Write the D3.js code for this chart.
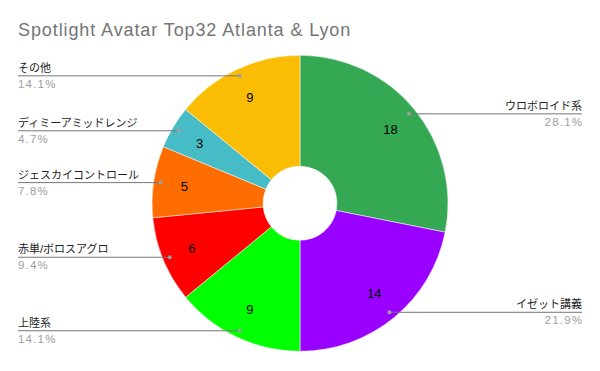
<!DOCTYPE html>
<html>
<head>
<meta charset="utf-8">
<script src="https://cdn.jsdelivr.net/npm/d3@7"></script>
<style>
  body { margin: 0; background: #fff; }
  svg { display: block; font-family: Arial, "Liberation Sans", "Noto Sans CJK JP", sans-serif; }
</style>
</head>
<body>
<div id="chart"></div>
<script>
// archetypes, clockwise from 12 o'clock
let names = ['ウロボロイド系', 'イゼット講義', '上陸系', '赤単/ボロスアグロ', 'ジェスカイコントロール', 'ディミーアミッドレンジ', 'その他']
let counts = [18, 14, 9, 6, 5, 3, 9]
let colors = ['#34a853', '#9900ff', '#00ff00', '#ff0000', '#ff6d01', '#46bdc6', '#fbbc04']

let width = 600
let height = 371
let cx = 300
let cy = 203.3
let outerR = 148
let innerR = 37

let total = d3.sum(counts)

let svg = d3.select('#chart')
  .append('svg')
  .attr('width', width)
  .attr('height', height)

svg.append('text')
  .attr('x', 18)
  .attr('y', 36)
  .attr('fill', '#757575')
  .style('font-size', '18px')
  .style('letter-spacing', '0.9px')
  .text('Spotlight Avatar Top32 Atlanta & Lyon')

let data = names.map((n, i) => ({ name: n, value: counts[i], color: colors[i] }))

let pie = d3.pie()
  .sort(null)
  .value(d => d.value)

let arcs = pie(data)

let arc = d3.arc()
  .innerRadius(innerR)
  .outerRadius(outerR)

let g = svg.append('g')
  .attr('transform', `translate(${cx},${cy})`)

g.selectAll('.slice')
  .data(arcs)
  .enter()
  .append('path')
  .attr('class', 'slice')
  .attr('d', arc)
  .attr('fill', d => d.data.color)
  .attr('stroke', '#fff')
  .attr('stroke-width', 0.5)

// value inside each slice
let valueArc = d3.arc().innerRadius(117).outerRadius(117)

g.selectAll('.val')
  .data(arcs)
  .enter()
  .append('text')
  .attr('class', 'val')
  .attr('transform', d => `translate(${valueArc.centroid(d)})`)
  .attr('text-anchor', 'middle')
  .attr('dy', '0.35em')
  .style('font-size', '13px')
  .attr('fill', '#000')
  .text(d => d.data.value)

// leader lines and side labels
let dotArc = d3.arc().innerRadius(141).outerRadius(141)
let fmt = d3.format('.1f')

arcs.forEach(d => {
  let [dx, dy] = dotArc.centroid(d)
  let px = cx + dx
  let py = cy + dy
  let right = dx > 0
  let endX = right ? 582 : 18

  svg.append('line')
    .attr('x1', px)
    .attr('y1', py)
    .attr('x2', endX)
    .attr('y2', py)
    .attr('stroke', '#757575')
    .attr('stroke-width', 1)

  svg.append('circle')
    .attr('cx', px)
    .attr('cy', py)
    .attr('r', 2)
    .attr('fill', '#9e9e9e')

  svg.append('text')
    .attr('x', endX)
    .attr('y', py - 4)
    .attr('text-anchor', right ? 'end' : 'start')
    .style('font-size', '11px')
    .attr('fill', '#222')
    .text(d.data.name)

  svg.append('text')
    .attr('x', right ? endX + 1.2 : endX)
    .attr('y', py + 12)
    .attr('text-anchor', right ? 'end' : 'start')
    .style('font-size', '11.5px')
    .style('letter-spacing', '1.2px')
    .attr('fill', '#9e9e9e')
    .text(fmt(d.data.value / total * 100) + '%')
})
</script>
</body>
</html>
